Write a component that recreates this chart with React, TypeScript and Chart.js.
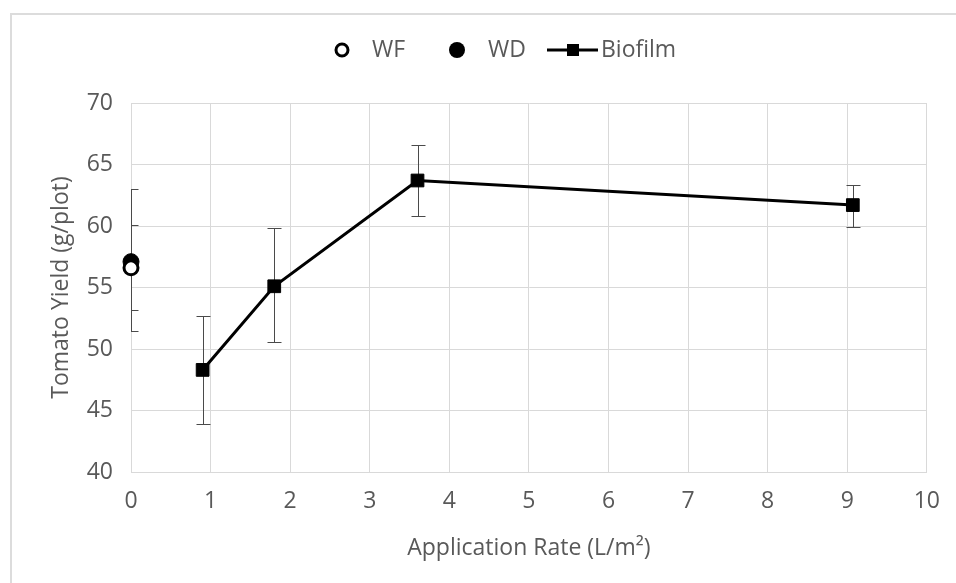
import React, { useEffect, useRef } from "react";
import { Chart, registerables } from "chart.js";

Chart.register(...registerables);

// ---- data ----
const biofilmRate = [0.9, 1.8, 3.6, 9.07];
const biofilmYield = [48.3, 55.1, 63.7, 61.7];
const biofilmLow = [43.9, 50.6, 60.8, 59.9];
const biofilmHigh = [52.7, 59.8, 66.6, 63.3];

const wfRate = [0];
const wfYield = [56.6];
const wfLow = [53.2];
const wfHigh = [60.1];

const wdRate = [0];
const wdYield = [57.1];
const wdLow = [51.5];
const wdHigh = [63.0];

const seriesLabels = ["WF", "WD", "Biofilm"];
const xTickValues = [0, 1, 2, 3, 4, 5, 6, 7, 8, 9, 10];
const yTickValues = [40, 45, 50, 55, 60, 65, 70];

const FONT = "'Open Sans', 'Noto Sans', sans-serif";
const FS = 23;
const TEXT = "#595959";
const GRID = "#d9d9d9";

const toPoints = (xs: number[], ys: number[]) => xs.map((x, i) => ({ x, y: ys[i] }));

const errorBarPlugin = {
  id: "errorBars",
  beforeDatasetsDraw(chart: any) {
    const { ctx, chartArea, scales } = chart;
    const xs = scales.x;
    const ys = scales.y;
    ctx.save();
    ctx.beginPath();
    ctx.rect(chartArea.left, chartArea.top, chartArea.right - chartArea.left, chartArea.bottom - chartArea.top);
    ctx.clip();
    ctx.strokeStyle = "#4a4a4a";
    ctx.lineWidth = 1;
    chart.data.datasets.forEach((ds: any) => {
      if (!ds.errLow) return;
      ds.data.forEach((pt: any, i: number) => {
        const px = Math.round(xs.getPixelForValue(pt.x)) + 0.5;
        const top = Math.round(ys.getPixelForValue(ds.errHigh[i])) + 0.5;
        const bot = Math.round(ys.getPixelForValue(ds.errLow[i])) + 0.5;
        const cap = 7;
        ctx.beginPath();
        ctx.moveTo(px, top);
        ctx.lineTo(px, bot);
        ctx.moveTo(px - cap, top);
        ctx.lineTo(px + cap, top);
        ctx.moveTo(px - cap, bot);
        ctx.lineTo(px + cap, bot);
        ctx.stroke();
      });
    });
    ctx.restore();
  },
};

const legendPlugin = {
  id: "customLegend",
  afterDraw(chart: any) {
    const { ctx } = chart;
    const ds = chart.data.datasets;
    const y = 50;
    ctx.save();
    ctx.font = `${FS}px ${FONT}`;
    ctx.textBaseline = "middle";
    ctx.textAlign = "left";
    // WF
    ctx.beginPath();
    ctx.arc(342, y, 6, 0, Math.PI * 2);
    ctx.fillStyle = "#ffffff";
    ctx.fill();
    ctx.lineWidth = 3;
    ctx.strokeStyle = "#000000";
    ctx.stroke();
    ctx.fillStyle = TEXT;
    ctx.fillText(ds[0].label, 372, y);
    // WD
    ctx.beginPath();
    ctx.arc(457, y, 8, 0, Math.PI * 2);
    ctx.fillStyle = "#000000";
    ctx.fill();
    ctx.fillStyle = TEXT;
    ctx.fillText(ds[1].label, 488, y);
    // Biofilm
    ctx.beginPath();
    ctx.moveTo(547, y);
    ctx.lineTo(598, y);
    ctx.lineWidth = 3;
    ctx.strokeStyle = "#000000";
    ctx.stroke();
    ctx.fillStyle = "#000000";
    ctx.fillRect(567, y - 6, 12, 12);
    ctx.fillStyle = TEXT;
    ctx.fillText(ds[2].label, 601, y);
    ctx.restore();
  },
};

export default function App() {
  const ref = useRef<HTMLCanvasElement | null>(null);

  useEffect(() => {
    document.body.style.margin = "0";
    const canvas = ref.current;
    if (!canvas) return;
    const chart = new Chart(canvas, {
      type: "scatter",
      data: {
        datasets: [
          {
            label: seriesLabels[0],
            data: toPoints(wfRate, wfYield),
            errLow: wfLow,
            errHigh: wfHigh,
            showLine: false,
            pointStyle: "circle",
            pointRadius: 7,
            pointBorderWidth: 3,
            pointBackgroundColor: "#ffffff",
            pointBorderColor: "#000000",
            clip: false,
          } as any,
          {
            label: seriesLabels[1],
            data: toPoints(wdRate, wdYield),
            errLow: wdLow,
            errHigh: wdHigh,
            showLine: false,
            pointStyle: "circle",
            pointRadius: 8,
            pointBorderWidth: 1,
            pointBackgroundColor: "#000000",
            pointBorderColor: "#000000",
            clip: false,
          } as any,
          {
            label: seriesLabels[2],
            data: toPoints(biofilmRate, biofilmYield),
            errLow: biofilmLow,
            errHigh: biofilmHigh,
            showLine: true,
            borderColor: "#000000",
            borderWidth: 3,
            pointStyle: "rect",
            pointRadius: 9,
            pointBorderWidth: 1,
            pointBackgroundColor: "#000000",
            pointBorderColor: "#000000",
            clip: false,
          } as any,
        ],
      },
      options: {
        animation: false,
        responsive: false,
        maintainAspectRatio: false,
        layout: { padding: { left: 0, right: 27, top: 103, bottom: 0 } },
        plugins: {
          legend: { display: false },
          tooltip: { enabled: false },
        },
        scales: {
          x: {
            type: "linear",
            min: 0,
            max: 10,
            afterBuildTicks: (s: any) => {
              s.ticks = xTickValues.map((v) => ({ value: v }));
            },
            afterFit: (s: any) => {
              s.height = 583 - 472;
            },
            grid: { color: GRID, lineWidth: 1, drawTicks: false },
            border: { color: GRID, width: 1 },
            ticks: {
              color: TEXT,
              padding: 16,
              font: { family: FONT, size: FS },
              maxRotation: 0,
            },
            title: {
              display: true,
              text: "Application Rate (L/m²)",
              color: TEXT,
              font: { family: FONT, size: FS },
              padding: { top: 0, bottom: 21 },
            },
          },
          y: {
            type: "linear",
            min: 40,
            max: 70,
            afterBuildTicks: (s: any) => {
              s.ticks = yTickValues.map((v) => ({ value: v }));
            },
            afterFit: (s: any) => {
              s.width = 131;
            },
            grid: { color: GRID, lineWidth: 1, drawTicks: false },
            border: { color: GRID, width: 1 },
            ticks: {
              color: TEXT,
              padding: 18,
              font: { family: FONT, size: FS },
            },
            title: {
              display: true,
              text: "Tomato Yield (g/plot)",
              color: TEXT,
              font: { family: FONT, size: FS },
              padding: { top: 48, bottom: 0 },
            },
          },
        },
      },
      plugins: [errorBarPlugin, legendPlugin],
    });
    return () => chart.destroy();
  }, []);

  return (
    <div style={{ position: "relative", width: 956, height: 583, background: "#ffffff", overflow: "hidden" }}>
      <div
        style={{
          position: "absolute",
          left: 10,
          top: 13,
          width: 1000,
          height: 1000,
          borderLeft: "2px solid #dcdcdc",
          borderTop: "2px solid #dcdcdc",
        }}
      />
      <canvas ref={ref} width={956} height={583} style={{ position: "absolute", left: 0, top: 0, width: 956, height: 583 }} />
    </div>
  );
}
